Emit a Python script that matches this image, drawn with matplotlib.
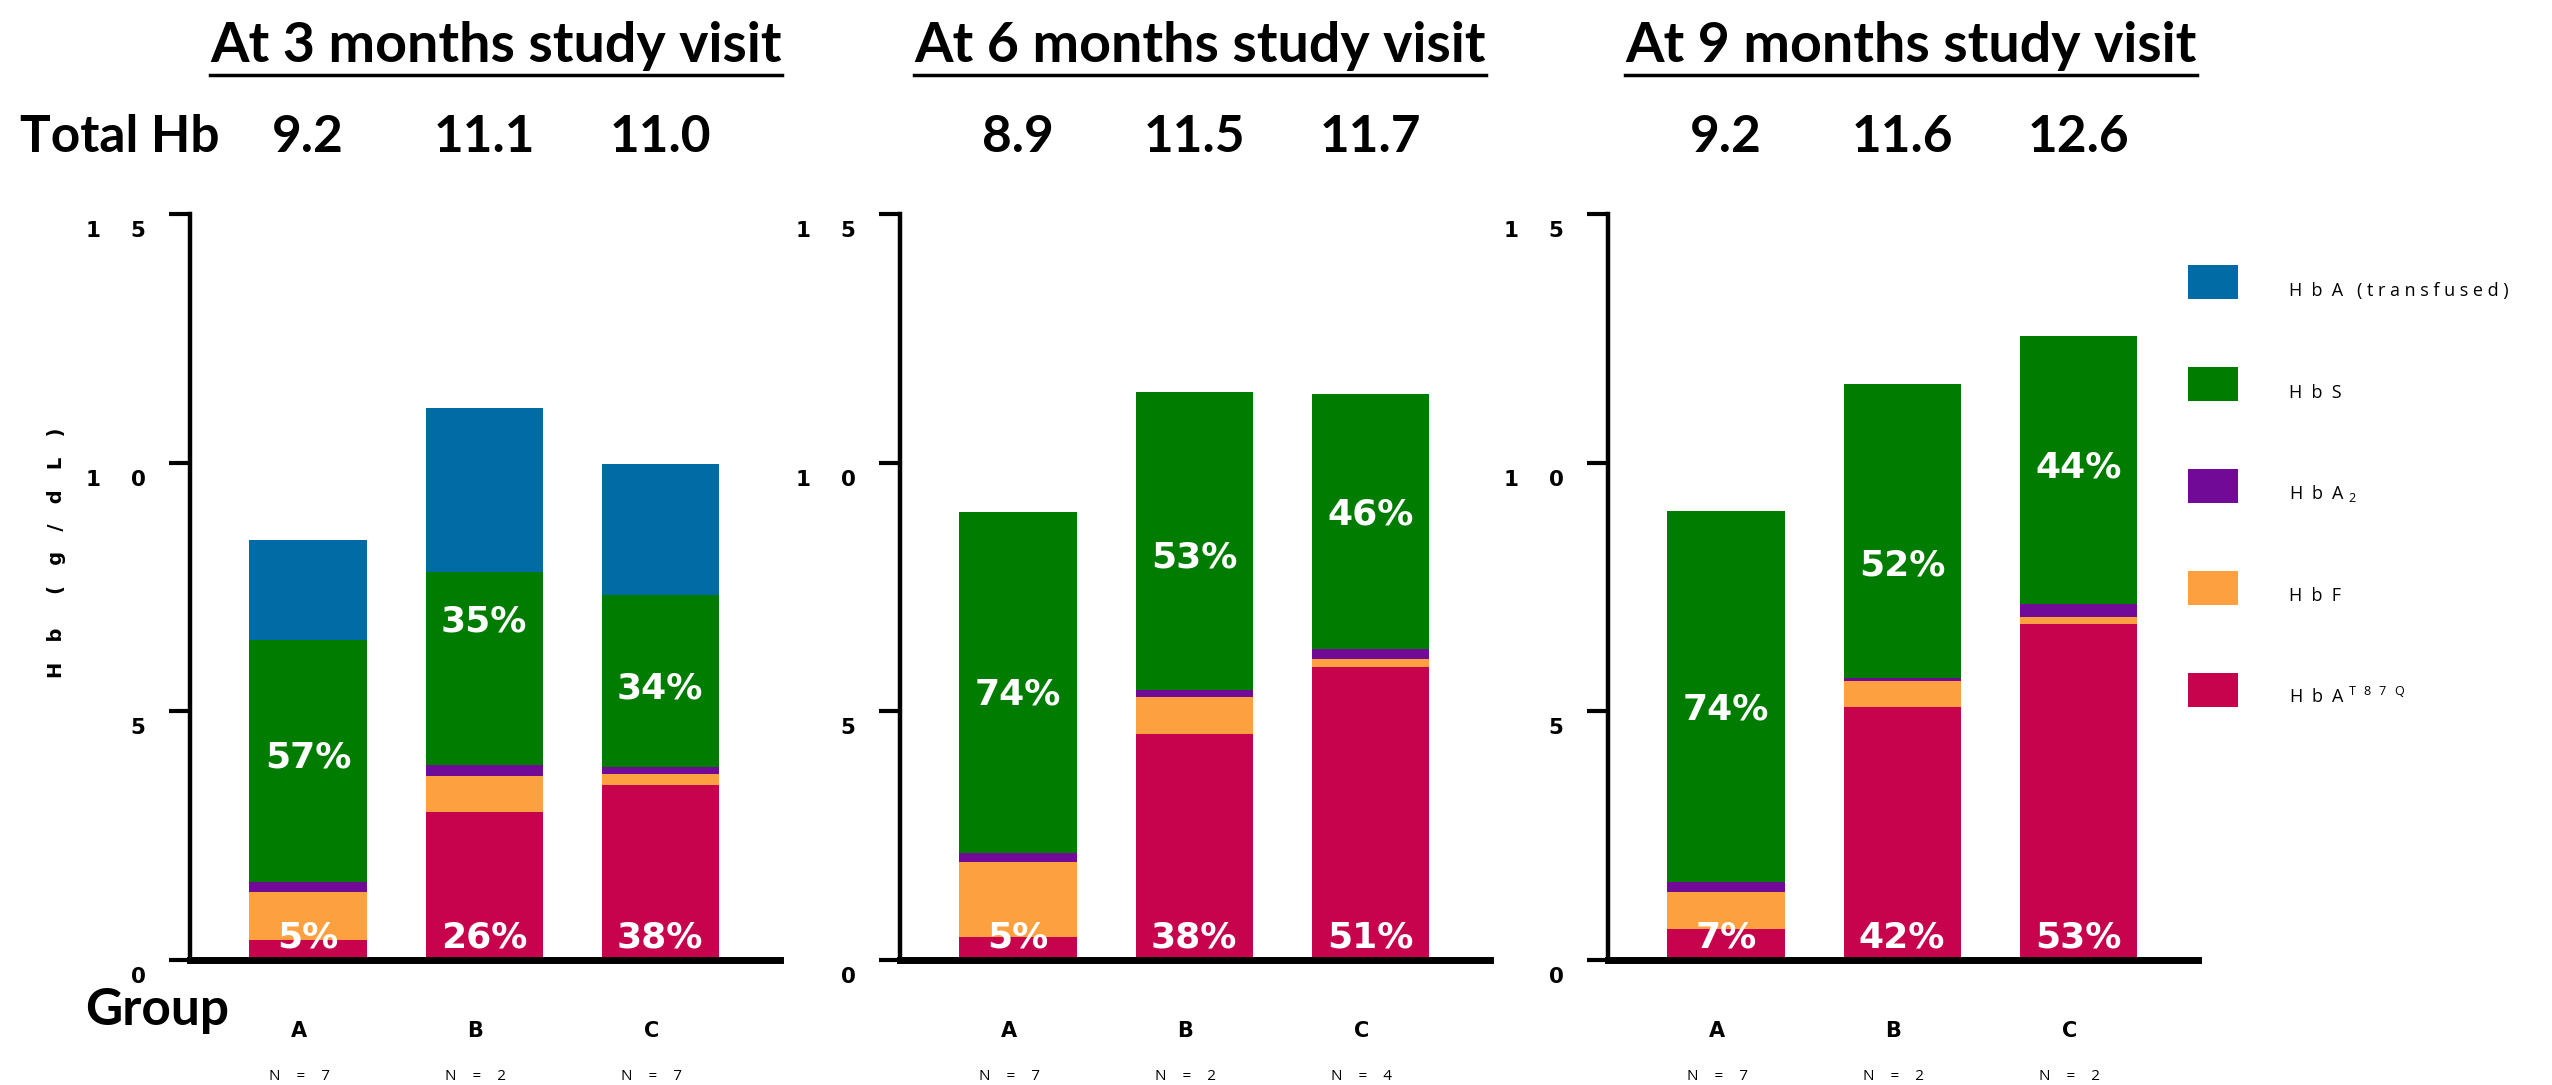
import matplotlib
matplotlib.use("Agg")
import matplotlib.pyplot as plt
import numpy as np
from matplotlib.transforms import blended_transform_factory, ScaledTranslation
from matplotlib.lines import Line2D
from matplotlib.patches import Patch

plt.rcParams['mathtext.default'] = 'regular'

# Hb fractions (g/dL) per group, stacked bottom to top
groups = ["A", "B", "C"]
visits = ["At 3 months study visit", "At 6 months study visit", "At 9 months study visit"]
group_n = [["7", "2", "7"], ["7", "2", "4"], ["7", "2", "2"]]
total_hb = [["9.2", "11.1", "11.0"], ["8.9", "11.5", "11.7"], ["9.2", "11.6", "12.6"]]

hba_t87q = [[0.41, 2.98, 3.51], [0.46, 4.55, 5.90], [0.62, 5.08, 6.75]]
hbf = [[0.96, 0.71, 0.22], [1.52, 0.73, 0.15], [0.74, 0.52, 0.14]]
hba2 = [[0.19, 0.24, 0.16], [0.17, 0.14, 0.20], [0.20, 0.07, 0.26]]
hbs = [[4.88, 3.88, 3.44], [6.86, 6.01, 5.14], [7.46, 5.92, 5.40]]
hba_transfused = [[2.00, 3.28, 2.65], [0, 0, 0], [0, 0, 0]]

pct_t87q = [["5%", "26%", "38%"], ["5%", "38%", "51%"], ["7%", "42%", "53%"]]
pct_hbs = [["57%", "35%", "34%"], ["74%", "53%", "46%"], ["74%", "52%", "44%"]]
# where the HbS percentage sits on the y axis (g/dL)
hbs_label_y = [[4.08, 6.80, 5.46], [5.33, 8.10, 8.95], [5.03, 7.94, 9.90]]

colors = {
    "t87q": "#C8034E",
    "hbf": "#FDA040",
    "hba2": "#720A98",
    "hbs": "#007D00",
    "transfused": "#006BA4",
}

W, H = 2552, 1085
fig = plt.figure(figsize=(W / 100, H / 100), dpi=100)

panel_left = [190, 900, 1608]
y0_px, y15_px = 960, 214
ax_w = 590

title_font = dict(family="Lato", fontweight="bold")
for p in range(3):
    ax = fig.add_axes([panel_left[p] / W, 1 - y0_px / H, ax_w / W, (y0_px - y15_px) / H])
    x = np.arange(3)
    bottom = np.zeros(3)
    for vals, key in [(hba_t87q[p], "t87q"), (hbf[p], "hbf"), (hba2[p], "hba2"),
                      (hbs[p], "hbs"), (hba_transfused[p], "transfused")]:
        v = np.array(vals)
        ax.bar(x, v, 0.665, bottom=bottom, color=colors[key], linewidth=0, zorder=1)
        bottom = bottom + v

    ax.set_xlim(-0.67, 2.68)
    ax.set_ylim(0, 15)
    for s in ["top", "right"]:
        ax.spines[s].set_visible(False)
    ax.spines["left"].set_linewidth(3.2)
    ax.spines["bottom"].set_linewidth(5)
    ax.spines["left"].set_zorder(3)
    ax.spines["bottom"].set_zorder(3)
    ax.set_xticks([])
    ax.set_yticks([0, 5, 10, 15])
    ax.set_yticklabels(["0", "5", "1    0", "1    5"], fontsize=15.5, fontweight="bold")
    ax.tick_params(axis="y", direction="out", length=15, width=3, pad=17)
    for lab in ax.get_yticklabels():
        lab.set_transform(lab.get_transform() + ScaledTranslation(0, -0.15, fig.dpi_scale_trans))

    # percentage labels inside the bars
    for i in range(3):
        ax.text(x[i], hbs_label_y[p][i], pct_hbs[p][i], color="white", fontsize=26,
                fontweight="bold", ha="center", va="center", zorder=4)
        ax.text(x[i], 0.45, pct_t87q[p][i], color="white", fontsize=26,
                fontweight="bold", ha="center", va="center", zorder=4)

    tr = blended_transform_factory(ax.transData, fig.transFigure)
    for i in range(3):
        ax.text(x[i], 1 - 138 / H, total_hb[p][i], transform=tr, fontsize=37,
                ha="center", va="center", **title_font)
        ax.text(x[i] - 0.05, 1 - 1031 / H, groups[i], transform=tr, fontsize=15,
                fontweight="bold", ha="center", va="center")
        ax.text(x[i] - 0.05, 1 - 1076 / H, "N    =    " + group_n[p][i], transform=tr,
                fontsize=11, family="Open Sans", ha="center", va="center")

# visit titles with underline
title_cx = [496, 1200, 1911]
titles = []
for p in range(3):
    t = fig.text(title_cx[p] / W, 1 - 62 / H, visits[p], fontsize=40, ha="center",
                 va="baseline", **title_font)
    titles.append(t)

fig.text(20 / W, 1 - 138 / H, "Total Hb", fontsize=37, ha="left", va="center", **title_font)
fig.text(85 / W, 1 - 1025 / H, "Group", fontsize=37, ha="left", va="baseline", **title_font)
fig.text(57 / W, 1 - 553 / H, "H   b     (   g   /   d   L   )", rotation=90, fontsize=14,
         fontweight="bold", ha="center", va="center")

fig.canvas.draw()
renderer = fig.canvas.get_renderer()
for t in titles:
    bb = t.get_window_extent(renderer)
    fig.add_artist(Line2D([bb.x0 / W, bb.x1 / W], [1 - 75 / H, 1 - 75 / H],
                          color="black", linewidth=2.5, transform=fig.transFigure))

# legend
legend_labels = [
    "H  b  A   ( t r a n s f u s e d )",
    "H  b  S",
    "H  b  A $_{2}$",
    "H  b  F",
    "H  b  A $^{T\\ \\ 8\\ \\ 7\\ \\ Q}$",
]
legend_colors = [colors["transfused"], colors["hbs"], colors["hba2"], colors["hbf"], colors["t87q"]]
handles = [Patch(facecolor=c, edgecolor="none") for c in legend_colors]
leg = fig.legend(handles, legend_labels, loc="upper left", bbox_to_anchor=(2181 / W, 1 - 258 / H),
                 frameon=False, handlelength=2.77, handleheight=2.53,
                 handletextpad=2.82, labelspacing=3.75, borderaxespad=0,
                 prop={"family": "Open Sans", "size": 13})
# legend text sits a little below the middle of each swatch
for t in leg.get_texts():
    t.set_transform(t.get_transform() + ScaledTranslation(0, -0.08, fig.dpi_scale_trans))

fig.savefig("out.png", dpi=100)
